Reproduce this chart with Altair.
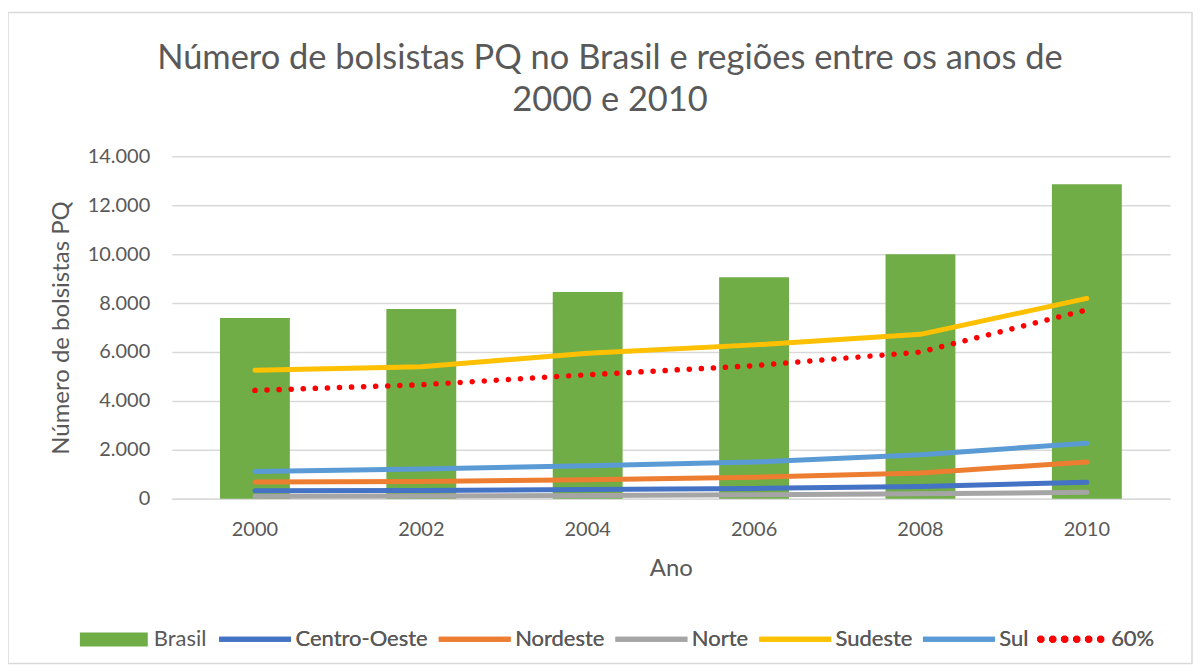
import altair as alt
import pandas as pd

# ---- data ----
anos = ["2000", "2002", "2004", "2006", "2008", "2010"]
brasil = [7390, 7760, 8450, 9060, 10000, 12860]
centro_oeste = [330, 340, 380, 420, 500, 670]
nordeste = [680, 700, 780, 880, 1050, 1500]
norte = [100, 110, 130, 160, 200, 260]
sudeste = [5250, 5400, 5950, 6290, 6720, 8190]
sul = [1110, 1220, 1350, 1500, 1800, 2270]
sessenta = [4430, 4660, 5070, 5440, 6000, 7720]

series_names = ["Centro-Oeste", "Nordeste", "Norte", "Sudeste", "Sul", "60%"]
series_values = [centro_oeste, nordeste, norte, sudeste, sul, sessenta]
series_colors = ["#4472C4", "#ED7D31", "#A5A5A5", "#FFC000", "#5B9BD5", "#FF0000"]
y_ticks = [0, 2000, 4000, 6000, 8000, 10000, 12000, 14000]

FONT = "Lato"
TXT = "#595959"

bar_df = pd.DataFrame({"Ano": anos, "valor": brasil, "serie_b": ["Brasil"] * len(anos)})
rows = []
for name, vals in zip(series_names, series_values):
    for a, v in zip(anos, vals):
        rows.append({"Ano": a, "valor": v, "serie": name})
line_df = pd.DataFrame(rows)

x_enc = alt.X(
    "Ano:N",
    title="Ano",
    scale=alt.Scale(paddingInner=0.58, paddingOuter=0.29),
    axis=alt.Axis(
        labelAngle=0, ticks=False, domainColor="#D9D9D9", domainWidth=1.5,
        labelFontSize=20, labelColor=TXT, labelFont=FONT, labelPadding=21,
        titleFontSize=24, titleColor=TXT, titleFont=FONT, titleFontWeight="normal",
        titlePadding=17,
    ),
)
y_enc = alt.Y(
    "valor:Q",
    title="Número de bolsistas PQ",
    scale=alt.Scale(domain=[0, 14000], nice=False),
    axis=alt.Axis(
        values=y_ticks, labelExpr="replace(format(datum.value, ','), ',', '.')",
        ticks=False, domain=False, gridColor="#D9D9D9", gridWidth=1.5,
        labelFontSize=20, labelColor=TXT, labelFont=FONT, labelPadding=22,
        titleFontSize=24, titleColor=TXT, titleFont=FONT, titleFontWeight="normal",
        titlePadding=14,
    ),
)

bars = alt.Chart(bar_df).mark_bar().encode(
    x=x_enc,
    y=y_enc,
    fill=alt.Fill(
        "serie_b:N",
        scale=alt.Scale(domain=["Brasil"], range=["#70AD47"]),
        legend=alt.Legend(
            title=None, orient="none", direction="horizontal",
            legendX=-92, legendY=450, padding=0,
            symbolType="M-1,-0.206H1V0.206H-1Z", symbolSize=4624,
            symbolStrokeWidth=0, labelOffset=6,
            labelFontSize=22, labelColor=TXT, labelFont=FONT,
        ),
    ),
)

# six small octagons (legend dots for the dotted series)
def octagon(cx, r=0.03):
    pts = [(-1, -0.414), (-0.414, -1), (0.414, -1), (1, -0.414),
           (1, 0.414), (0.414, 1), (-0.414, 1), (-1, 0.414)]
    s = "M" + "L".join(f"{cx + px * r:.4f},{py * r:.4f}" for px, py in pts) + "Z"
    return s

dots_path = "".join(octagon(c) for c in [-0.833, -0.5, -0.167, 0.167, 0.5, 0.833])
sym_expr = f"datum.value === '60%' ? '{dots_path}' : 'stroke'"

stroke_enc = alt.Stroke(
    "serie:N",
    scale=alt.Scale(domain=series_names, range=series_colors),
    legend=alt.Legend(
        title=None, orient="none", direction="horizontal",
        legendX=45, legendY=445, padding=0,
        symbolType=alt.ExprRef(expr=sym_expr), symbolSize=5184,
        symbolStrokeWidth=5, labelOffset=2, columnPadding=0,
        labelFontSize=22, labelColor=TXT, labelFont=FONT,
    ),
)

solid = alt.Chart(line_df).transform_filter(
    alt.datum.serie != "60%"
).mark_line(strokeWidth=5, strokeCap="round", strokeJoin="round").encode(
    x="Ano:N", y="valor:Q", stroke=stroke_enc
)
dotted = alt.Chart(line_df).transform_filter(
    alt.datum.serie == "60%"
).mark_line(strokeWidth=5.5, strokeCap="round", strokeDash=[0.1, 12]).encode(
    x="Ano:N", y="valor:Q", stroke=stroke_enc
)

border = alt.Chart(pd.DataFrame({"k": [0]})).mark_rect(
    filled=False, stroke="#D9D9D9", strokeWidth=1.5
).encode(
    x=alt.value(-164), x2=alt.value(1022), y=alt.value(-144), y2=alt.value(508)
)

chart = alt.layer(border, bars, solid, dotted).resolve_scale(
    fill="independent", stroke="independent"
).properties(
    width=1000,
    height=343,
    padding={"left": 164, "top": 148, "right": 24, "bottom": 166},
    autosize=alt.AutoSizeParams(type="none"),
    title=alt.Title(
        ["Número de bolsistas PQ no Brasil e regiões entre os anos de", "2000 e 2010"],
        fontSize=34.5, font=FONT, color=TXT, fontWeight="normal",
        anchor="middle", frame="group", dx=-61, dy=107, lineHeight=42, offset=0,
    ),
).configure_view(stroke=None)

chart.save("out.html", embed_options={"renderer": "svg", "actions": False})
